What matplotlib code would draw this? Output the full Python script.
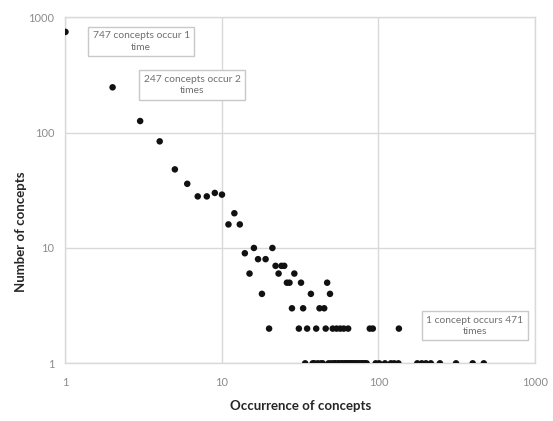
import matplotlib
matplotlib.use("Agg")
import matplotlib.pyplot as plt
from matplotlib.ticker import FixedLocator, FixedFormatter, NullLocator

# occurrence (x) and number of concepts (y)
occ_main = [1, 2, 3, 4, 5, 6, 7, 8, 9, 10, 11, 12, 13, 14, 15, 16, 17, 18, 19, 20,
            21, 22, 23, 24, 25, 26, 27, 28, 29, 31, 32, 33, 35, 37, 40, 42, 45, 46,
            47, 49, 51, 54, 57, 60, 64, 88, 92, 135]
num_main = [747, 247, 126, 84, 48, 36, 28, 28, 30, 29, 16, 20, 16, 9, 6, 10, 8, 4, 8, 2,
            10, 7, 6, 7, 7, 5, 5, 3, 6, 2, 5, 3, 2, 4, 2, 3, 3, 2,
            5, 4, 2, 2, 2, 2, 2, 2, 2, 2]
occ_single = [34, 38, 39, 41, 43, 44, 48, 50, 52, 53, 55, 56, 58, 59, 61, 62, 63, 65,
              66, 67, 69, 70, 72, 74, 76, 78, 80, 82, 84, 96, 101, 110, 120, 126, 134,
              177, 189, 201, 216, 247, 313, 400, 471]
num_single = [1] * len(occ_single)

ticks = [1, 10, 100, 1000]
tick_labels = ["1", "10", "100", "1000"]

plt.rcParams['font.family'] = ['Lato', 'DejaVu Sans']

fig = plt.figure(figsize=(5.53, 4.21), dpi=100)
ax = fig.add_axes([0.1184, 0.137, 0.8490, 0.822])

ax.scatter(occ_main + occ_single, num_main + num_single, s=22, color='#111111',
           edgecolors='none', zorder=3)

ax.set_xscale('log')
ax.set_yscale('log')
ax.set_xlim(1, 1000)
ax.set_ylim(1, 1000)
for axis in (ax.xaxis, ax.yaxis):
    axis.set_major_locator(FixedLocator(ticks))
    axis.set_major_formatter(FixedFormatter(tick_labels))
    axis.set_minor_locator(NullLocator())

grid_c = '#d9d9d9'
ax.grid(True, which='major', color=grid_c, linewidth=1.0, zorder=0)
for sp in ax.spines.values():
    sp.set_color(grid_c)
    sp.set_linewidth(1.0)
ax.tick_params(axis='both', length=0, labelsize=8, labelcolor='#8c8c8c')
ax.tick_params(axis='x', pad=10)
ax.tick_params(axis='y', pad=8)

ax.set_xlabel("Occurrence of concepts", fontsize=9.5, fontweight='bold',
              color='#262626')
ax.xaxis.set_label_coords(0.5, -0.107)
ax.set_ylabel("Number of concepts", fontsize=9.5, fontweight='bold',
              color='#262626')
ax.yaxis.set_label_coords(-0.083, 0.38)

box = dict(boxstyle='square,pad=0.45', facecolor='white', edgecolor='#c8c8c8', linewidth=1.0)
notes = [("747 concepts occur 1\ntime", 0.161, 0.930),
         ("247 concepts occur 2\ntimes", 0.2694, 0.804),
         ("1 concept occurs 471\ntimes", 0.872, 0.109)]
for txt, xf, yf in notes:
    ax.text(xf, yf, txt, transform=ax.transAxes, ha='center', va='center',
            fontsize=7.4, color='#707070', bbox=box, zorder=4, linespacing=1.3)

fig.savefig("out.png", dpi=100)
